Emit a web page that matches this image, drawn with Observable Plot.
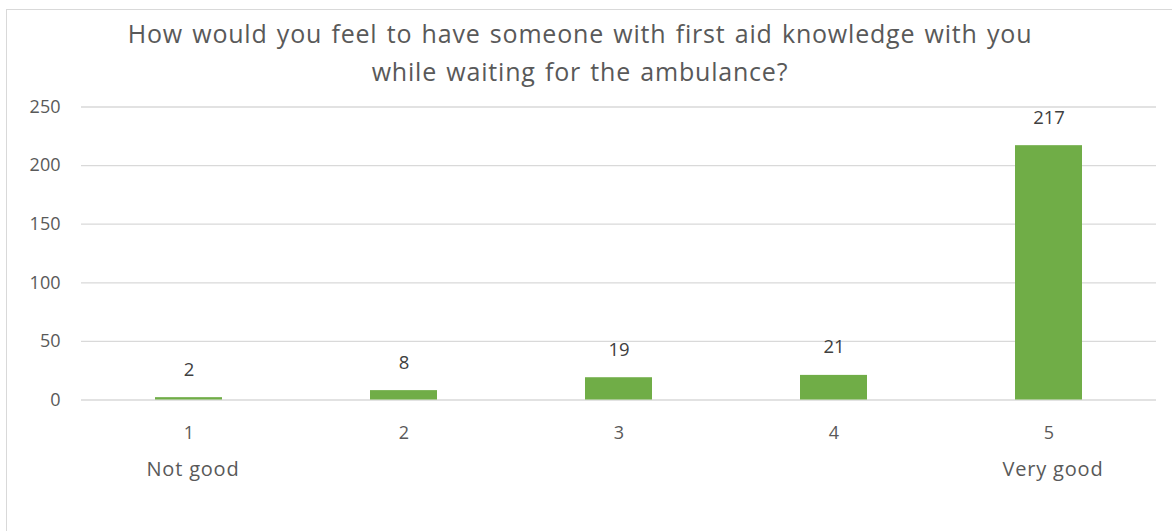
<!DOCTYPE html>
<html>
<head>
<meta charset="utf-8">
<script src="https://cdn.jsdelivr.net/npm/d3@7"></script>
<script src="https://cdn.jsdelivr.net/npm/@observablehq/plot@0.6"></script>
<style>
  html, body { margin: 0; padding: 0; background: #fff; }
  #wrap { position: relative; width: 1172px; height: 531px; overflow: hidden; font-family: "Open Sans", sans-serif; }
  #border { position: absolute; left: 6px; top: 9px; width: 1200px; height: 560px; border: 1.5px solid #d9d9d9; box-sizing: border-box; }
  #title { position: absolute; left: 0; top: 14px; width: 1160px; text-align: center; color: #595959; font-size: 25px; letter-spacing: 0.8px; word-spacing: 2px; line-height: 38px; }
  #chart { position: absolute; left: 0; top: 95px; }
</style>
</head>
<body>
<div id="wrap">
  <div id="border"></div>
  <div id="title">How would you feel to have someone with first aid knowledge with you<br>while waiting for the ambulance?</div>
  <div id="chart"></div>
</div>
<script>
const categories = ["1", "2", "3", "4", "5"];
const counts = [2, 8, 19, 21, 217];
const subLabels = ["Not good", "", "", "", "Very good"];
const yTicks = [0, 50, 100, 150, 200, 250];

const data = categories.map((c, i) => ({ category: c, count: counts[i], sub: subLabels[i] }));

const chart = Plot.plot({
  width: 1172,
  height: 436,
  marginLeft: 81,
  marginRight: 16,
  marginTop: 11.5,
  marginBottom: 131.5,
  style: { fontFamily: "Open Sans, sans-serif", background: "transparent", overflow: "visible" },
  x: { domain: categories, padding: 0, label: null },
  y: { domain: [0, 250], label: null },
  marks: [
    Plot.gridY(yTicks, { stroke: "#d9d9d9", strokeOpacity: 1, strokeWidth: 1.3 }),
    Plot.axisY({ ticks: yTicks, tickSize: 0, tickPadding: 21, fontSize: 18, color: "#595959", label: null }),
    Plot.axisX({ tickSize: 0, tickPadding: 26, fontSize: 18, color: "#595959", label: null }),
    Plot.barY(data, { x: "category", y: "count", fill: "#70ad47", insetLeft: 74, insetRight: 74 }),
    Plot.text(data, { x: "category", y: "count", text: d => String(d.count), dy: -28, fontSize: 18.5, fill: "#404040" }),
    Plot.text(data, { x: "category", text: "sub", frameAnchor: "bottom", dy: 75.5, dx: 4, fontSize: 20, letterSpacing: "0.8px", fill: "#595959", style: "letter-spacing:0.8px" })
  ]
});
chart.querySelectorAll("text").forEach(t => {
  if (t.textContent === "Not good" || t.textContent === "Very good") t.setAttribute("letter-spacing", "0.8");
});
document.getElementById("chart").appendChild(chart);
</script>
</body>
</html>
